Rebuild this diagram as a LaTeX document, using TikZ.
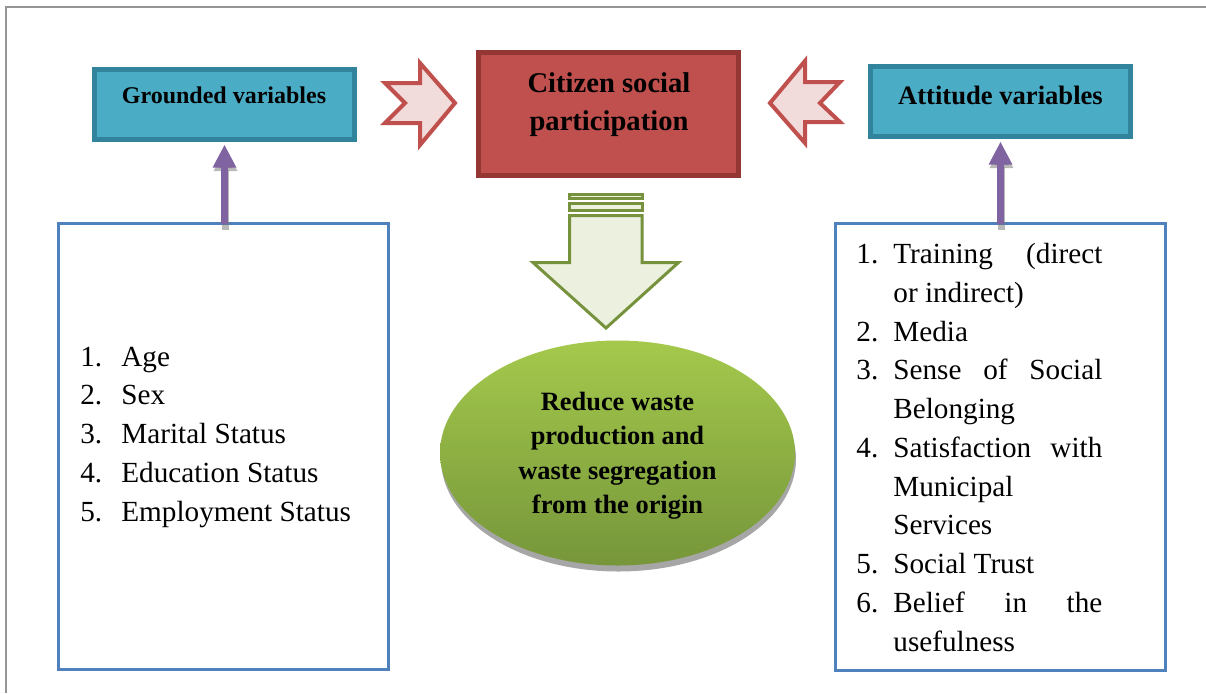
\documentclass[tikz,border=0pt]{standalone}
\usepackage{fontspec}
\setmainfont{Liberation Serif}
\usetikzlibrary{arrows.meta,shapes.geometric,shadows}
\definecolor{tealfill}{HTML}{4BACC6}
\definecolor{tealdraw}{HTML}{31849B}
\definecolor{redfill}{HTML}{C0504D}
\definecolor{reddraw}{HTML}{943634}
\definecolor{pinkfill}{HTML}{F2DCDB}
\definecolor{greendraw}{HTML}{76923C}
\definecolor{greenfill}{HTML}{EBF1DE}
\definecolor{elltop}{HTML}{A4C94C}
\definecolor{ellbot}{HTML}{76963A}
\definecolor{listblue}{HTML}{4F81BD}
\definecolor{purp}{HTML}{8064A2}
\definecolor{framegray}{HTML}{959595}
\begin{document}
\begin{tikzpicture}[x=0.5pt,y=-0.5pt,
  tealbox/.style={draw=tealdraw, fill=tealfill, line width=2.5pt, minimum width=130pt, minimum height=35pt, inner sep=0},
  redbox/.style={draw=reddraw, fill=redfill, line width=2.5pt, minimum width=130pt, minimum height=61.5pt, inner sep=0},
  listbox/.style={draw=listblue, line width=1.5pt, minimum width=165pt, inner sep=0},
  title/.style={font=\fontsize{12pt}{14pt}\selectfont\bfseries, inner sep=0, anchor=base},
  bigtitle/.style={font=\fontsize{14.3pt}{19pt}\selectfont\bfseries, inner sep=0, anchor=base},
  elltxt/.style={font=\fontsize{13.2pt}{17pt}\selectfont\bfseries, inner sep=0, anchor=base},
  listtxt/.style={font=\fontsize{14.6pt}{19.4pt}\selectfont, inner sep=0, anchor=base west},
  notcharrow/.style={draw=redfill, fill=pinkfill, line width=2pt, line join=miter},
  greenarrow/.style={draw=greendraw, fill=greenfill, line width=1.5pt, line join=miter},
  purparrow/.style={draw=purp, line width=3.5pt, -{Triangle[width=11pt,length=11.5pt]}},
  purpshadow/.style={draw=black!55, opacity=0.5, line width=3.5pt, -{Triangle[width=11pt,length=11.5pt]}}
]
\useasboundingbox (0,0) rectangle (1206,693);
% frame
\draw[framegray, line width=0.9pt] (1206,7) -- (6,7) -- (6,693);

% boxes
\node[tealbox] (grounded) at (224.5,104.5) {};
\node[tealbox] (attitude) at (1000.5,101.5) {};
\node[redbox] (citizen) at (608.5,114) {};
\node[listbox, minimum height=223pt] (leftlist) at (223.5,446.5) {};
\node[listbox, minimum height=223.5pt] (rightlist) at (1000.5,447) {};

\node[title] (gtxt) at (224,103) {Grounded variables};
\node[title, font=\fontsize{13.3pt}{15pt}\selectfont\bfseries] (atxt) at (1000.5,104) {Attitude variables};
\node[bigtitle] (ctxt1) at (609,92) {Citizen social};
\node[bigtitle] (ctxt2) at (609,130) {participation};

% notched arrows
\draw[notcharrow] (385,83) -- (420,83) -- (420,63) -- (455,103) -- (420,145) -- (420,123) -- (385,123) -- (405,103) -- cycle;
\draw[notcharrow] (840,82) -- (805,82) -- (805,61) -- (770,103) -- (805,143) -- (805,122) -- (840,122) -- (820,103) -- cycle;

% green down arrow
\draw[greenarrow] (569.5,194.5) rectangle (642,198.5);
\draw[greenarrow] (569.5,203) rectangle (642,210);
\draw[greenarrow] (569.5,215.5) -- (642,215.5) -- (642,262.5) -- (678.5,262.5) -- (606,328) -- (533,262.5) -- (569.5,262.5) -- cycle;

% ellipse
\node[ellipse, minimum width=177.5pt, minimum height=112.5pt, inner sep=0,
  top color=elltop, bottom color=ellbot,
  drop shadow={shadow xshift=0.5pt, shadow yshift=-3pt, opacity=0.35, fill=black}] (goal) at (617.5,453) {};
\node[elltxt] (e1) at (617.5,410) {Reduce waste};
\node[elltxt] (e2) at (617.5,444.5) {production and};
\node[elltxt] (e3) at (617.5,479) {waste segregation};
\node[elltxt] (e4) at (617.5,513.5) {from the origin};

% purple arrows
\draw[purpshadow] ([xshift=0.5pt,yshift=-4pt]leftlist.north -| grounded.south) -- ([xshift=0.5pt,yshift=-3pt]grounded.south);
\draw[purparrow] ([yshift=-1pt]leftlist.north -| grounded.south) -- ([yshift=-1.25pt]grounded.south);
\draw[purpshadow] ([xshift=0.5pt,yshift=-4pt]rightlist.north) -- ([xshift=0.5pt,yshift=-3pt]attitude.south);
\draw[purparrow] ([yshift=-1pt]rightlist.north) -- ([yshift=-1.25pt]attitude.south);

% left list
\foreach \t [count=\i] in {Age,Sex,Marital Status,Education Status,Employment Status}
  \node[listtxt] (L\i) at (80,{327.2+38.8*\i}) {\makebox[20.5pt][l]{\i.}\t};

% right list
\node[listtxt] (R1) at (856,263) {\makebox[18.5pt][l]{1.}\makebox[104.5pt][l]{Training\hfill(direct}};
\node[listtxt] (R2) at (893,302) {or indirect)};
\node[listtxt] (R3) at (856,341) {\makebox[18.5pt][l]{2.}Media};
\node[listtxt] (R4) at (856,379.5) {\makebox[18.5pt][l]{3.}\makebox[104.5pt][l]{Sense\hfill of\hfill Social}};
\node[listtxt] (R5) at (893,418) {Belonging};
\node[listtxt] (R6) at (856,457) {\makebox[18.5pt][l]{4.}\makebox[104.5pt][l]{Satisfaction\hfill with}};
\node[listtxt] (R7) at (893,496) {Municipal};
\node[listtxt] (R8) at (893,534.5) {Services};
\node[listtxt] (R9) at (856,573.5) {\makebox[18.5pt][l]{5.}Social Trust};
\node[listtxt] (R10) at (856,612.5) {\makebox[18.5pt][l]{6.}\makebox[104.5pt][l]{Belief\hfill in\hfill the}};
\node[listtxt] (R11) at (893,651) {usefulness};
\end{tikzpicture}
\end{document}
